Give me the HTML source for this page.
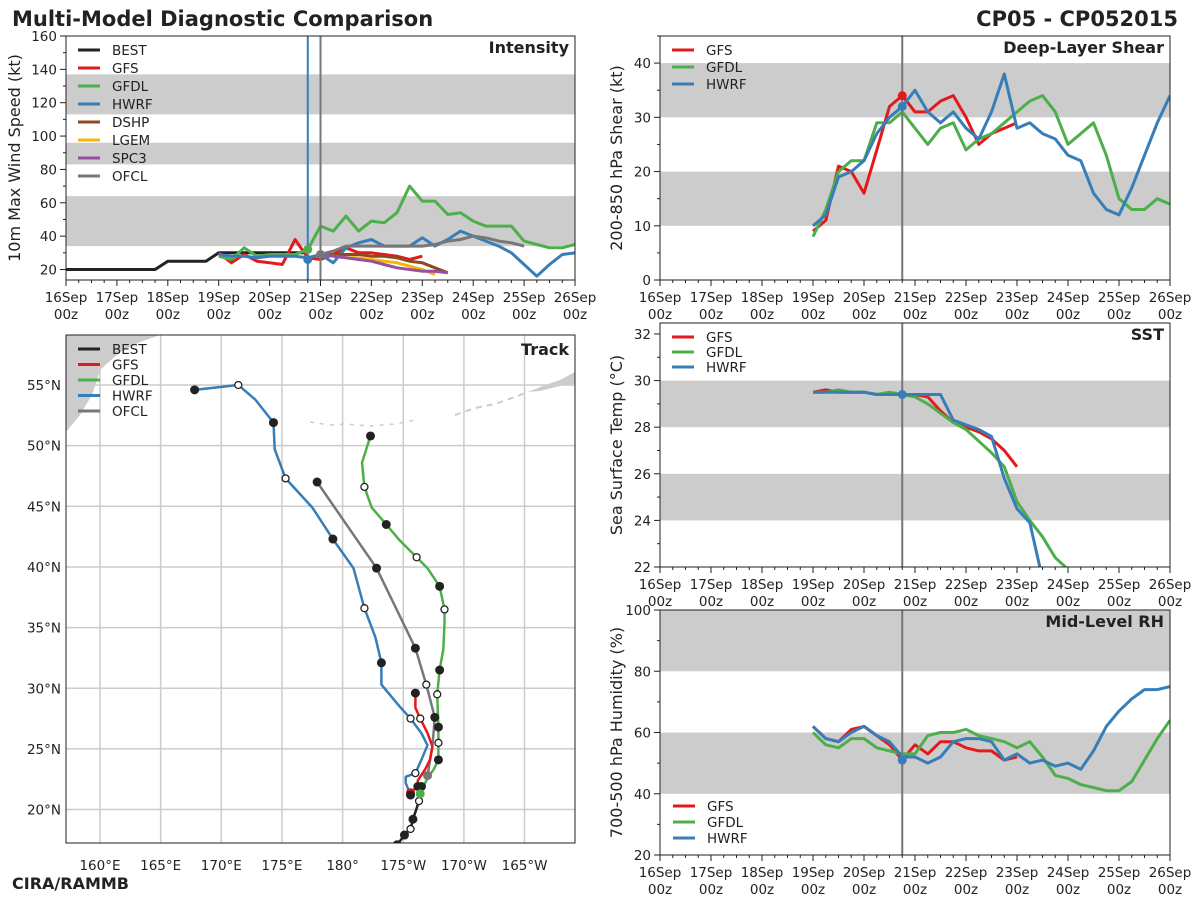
<!DOCTYPE html>
<html><head><meta charset="utf-8"><style>
html,body{margin:0;padding:0;background:#fff;}
svg{display:block;font-family:"DejaVu Sans","Liberation Sans",sans-serif;}
</style></head><body>
<svg id="c" width="1200" height="900" viewBox="0 0 1200 900">
<text x="12" y="26" font-size="21" font-weight="bold" fill="#222">Multi-Model Diagnostic Comparison</text>
<text x="1178" y="26" font-size="21" font-weight="bold" fill="#222" text-anchor="end">CP05 - CP052015</text>
<text x="12" y="889" font-size="16" font-weight="bold" fill="#222">CIRA/RAMMB</text>
</svg>
<script>
// ---------- data ----------
const dayLabels = ["16Sep","17Sep","18Sep","19Sep","20Sep","21Sep","22Sep","23Sep","24Sep","25Sep","26Sep"];
const intBest = [20,20,20,20,20,20,20,20,25,25,25,25,30,30,30,30,30,30,30,30];
const intGFS = [30,24,29,25,24,23,38,27,26,29,33,30,30,29,28,26,28];
const intGFDL = [28,26,33,28,29,29,29,32,46,43,52,43,49,48,54,70,61,61,53,54,49,46,46,46,37,35,33,33,35];
const intHWRF = [29,28,28,27,28,28,28,27,29,24,33,36,38,34,34,34,39,34,38,43,40,37,34,30,23,16,23,29,30];
const intDSHP = [29,29,29,29,28,28,27,25,24,21,18];
const intLGEM = [29,28,27,27,26,25,24,22,20,17];
const intSPC3 = [29,28,27,26,25,23,21,20,19,19,18];
const intOFCL = [29,31,34,34,34,34,34,34,34,35,37,38,40,39,37,36,34];
const shrGFS = [9,11,21,20,16,24,32,34,31,31,33,34,30,25,27,28,29];
const shrGFDL = [8,13,20,22,22,29,29,31,28,25,28,29,24,26,27,29,31,33,34,31,25,27,29,23,15,13,13,15,14];
const shrHWRF = [10,12,19,20,22,27,30,32,35,31,29,31,28,26,31,38,28,29,27,26,23,22,16,13,12,17,23,29,34];
const sstGFS = [29.5,29.6,29.5,29.5,29.5,29.4,29.4,29.4,29.4,29.3,28.7,28.2,28.0,27.8,27.5,27.0,26.3];
const sstGFDL = [29.5,29.5,29.6,29.5,29.5,29.4,29.5,29.4,29.3,29.0,28.6,28.2,27.9,27.4,26.9,26.3,24.8,24.0,23.3,22.4,21.9];
const sstHWRF = [29.5,29.5,29.5,29.5,29.5,29.4,29.4,29.4,29.4,29.4,29.4,28.3,28.1,27.9,27.6,25.8,24.5,23.9,21.5];
const rhGFS = [62,58,57,61,62,59,56,51,56,53,57,57,55,54,54,51,52];
const rhGFDL = [60,56,55,58,58,55,54,53,53,59,60,60,61,59,58,57,55,57,52,46,45,43,42,41,41,44,51,58,64];
const rhHWRF = [62,58,57,60,62,59,57,52,52,50,52,57,58,58,57,51,53,50,51,49,50,48,54,62,67,71,74,74,75];
// track: [lon east, lat]
const trkBEST = [[184.5,17.1],[185.1,17.9],[185.6,18.4],[185.8,19.2],[186.3,20.7],[186.5,21.9]];
const trkGFS = [[185.6,21.4],[186.2,21.9],[186.2,22.4],[186.8,23.3],[187.2,24.1],[187.4,25.2],[187.0,26.3],[186.6,27.1],[186.4,27.5],[186.0,28.4],[186.0,29.6]];
const trkGFDL = [[186.4,21.3],[187.0,22.6],[187.5,23.3],[187.9,24.1],[187.9,25.5],[187.9,26.8],[187.8,29.5],[188.0,31.5],[188.3,33.2],[188.4,35.4],[188.4,36.5],[188.0,38.4],[187.0,39.9],[186.1,40.8],[184.7,42.2],[183.6,43.5],[182.4,44.9],[181.8,46.6],[181.6,48.6],[182.3,50.8]];
const trkHWRF = [[185.6,21.2],[185.2,22.2],[185.2,22.7],[186.0,23.0],[186.5,24.1],[187.0,25.3],[186.5,26.3],[185.6,27.5],[184.7,28.5],[183.2,30.3],[183.2,32.1],[182.7,34.2],[181.8,36.6],[180.9,39.9],[179.2,42.3],[177.5,44.9],[175.3,47.3],[174.4,49.7],[174.3,51.9],[172.8,53.8],[171.4,55.0],[167.8,54.6]];
const trkOFCL = [[187.0,22.8],[187.4,25.2],[187.6,27.6],[186.9,30.3],[186.0,33.3],[182.8,39.9],[177.9,47.0]];
const mkBESTf=[1,3,5], mkBESTo=[2,4];
const mkGFSf=[1,10], mkGFSo=[8];
const mkGFDLf=[3,5,7,11,15,19], mkGFDLo=[4,6,10,13,17];
const mkHWRFf=[0,10,14,18,21], mkHWRFo=[3,7,12,16,20];
const mkOFCLf=[2,4,5,6], mkOFCLo=[3];
const trkLon=[160,165,170,175,180,185,190,195];
const trkLonLbl=["160°E","165°E","170°E","175°E","180°","175°W","170°W","165°W"];
const trkLat=[20,25,30,35,40,45,50,55];

const C={BEST:"#222",GFS:"#e31a1c",GFDL:"#4daf4a",HWRF:"#377eb8",DSHP:"#8c4a1e",LGEM:"#f2b705",SPC3:"#984ea3",OFCL:"#777"};
const svg=document.getElementById('c');
const NS="http://www.w3.org/2000/svg";
function mk(tag,attrs,parent){const e=document.createElementNS(NS,tag);for(const k in attrs)e.setAttribute(k,attrs[k]);(parent||svg).appendChild(e);return e;}
let clipN=0;
function legend(g,x,y,keys,sp){
  const lg=mk('g',{},g);
  
  
  keys.forEach((k,i)=>{
    mk('line',{x1:x,x2:x+22,y1:y+i*sp,y2:y+i*sp,stroke:C[k],"stroke-width":3},lg);
    const t=mk('text',{x:x+34,y:y+i*sp+5,"font-size":13.5,fill:"#222"},lg);t.textContent=k;
    
    
  });
}
function panel(o){
  const g=mk('g',{});
  
  
  const X=d=>o.x0+(d/10)*(o.x1-o.x0);
  const Y=v=>o.y1-(v-o.vmin)/(o.vmax-o.vmin)*(o.y1-o.y0);
  o.bands.forEach(b=>{const r=mk('rect',{x:o.x0,y:Y(b[1]),width:o.x1-o.x0,height:Y(b[0])-Y(b[1]),fill:"#cccccc"},g);
    
    });
  const cid='cl'+(clipN++);
  const cp=mk('clipPath',{id:cid},g);mk('rect',{x:o.x0,y:o.y0,width:o.x1-o.x0,height:o.y1-o.y0},cp);
  for(let d=0;d<=10;d++){
    mk('line',{x1:X(d),x2:X(d),y1:o.y1,y2:o.y1+6,stroke:"#222","stroke-width":1},g);
    if(d<10)for(let q=1;q<4;q++)mk('line',{x1:X(d+q/4),x2:X(d+q/4),y1:o.y1,y2:o.y1+3,stroke:"#222","stroke-width":1},g);
    const t=mk('text',{x:X(d),y:o.y1+22,"font-size":13.5,"text-anchor":"middle",fill:"#222"},g);t.textContent=dayLabels[d];
    
    
    const t2=mk('text',{x:X(d),y:o.y1+39,"font-size":13.5,"text-anchor":"middle",fill:"#222"},g);t2.textContent="00z";
  }
  o.yticks.forEach(v=>{mk('line',{x1:o.x0-6,x2:o.x0,y1:Y(v),y2:Y(v),stroke:"#222"},g);
    const t=mk('text',{x:o.x0-9,y:Y(v)+5,"font-size":13.5,"text-anchor":"end",fill:"#222"},g);t.textContent=v;
    
    });
  (o.yminor||[]).forEach(v=>mk('line',{x1:o.x0-3,x2:o.x0,y1:Y(v),y2:Y(v),stroke:"#222"},g));
  const yt=mk('text',{x:0,y:0,"font-size":16,"text-anchor":"middle",fill:"#222",transform:`translate(${o.ytx},${(o.y0+o.y1)/2}) rotate(-90)`},g);
  yt.textContent=o.ytitle;
  
  
  const gl=mk('g',{"clip-path":`url(#${cid})`},g);
  o.series.forEach(s=>{
    const pts=s.data.map((v,i)=>X(s.start+i*0.25).toFixed(1)+","+Y(v).toFixed(1)).join(" ");
    const p=mk('polyline',{points:pts,fill:"none",stroke:C[s.k],"stroke-width":3,"stroke-linejoin":"round"},gl);
    
    
  });
  (o.vlines||[]).forEach(v=>mk('line',{x1:X(v[0]),x2:X(v[0]),y1:o.y0,y2:o.y1,stroke:v[1],"stroke-width":2},g));
  (o.dots||[]).forEach(d=>mk('circle',{cx:X(d[0]),cy:Y(d[1]),r:4.5,fill:C[d[2]]},g));
  mk('rect',{x:o.x0,y:o.y0,width:o.x1-o.x0,height:o.y1-o.y0,fill:"none",stroke:"#222","stroke-width":1},g);
  const pt=mk('text',{x:o.x1-6,y:o.y0+17,"font-size":16,"font-weight":"bold","text-anchor":"end",fill:"#222"},g);
  pt.textContent=o.title;
  
  
  if(o.legend.length)legend(g,o.x0+12,o.y0+14,o.legend,o.lsp||17.5);
}
const ev=(a,b,s)=>{const r=[];for(let v=a;v<=b+1e-9;v+=s)r.push(+v.toFixed(2));return r;};
panel({name:"intensity-panel",x0:66,x1:575,y0:36,y1:280,vmin:13.7,vmax:160,title:"Intensity",
  ytitle:"10m Max Wind Speed (kt)",ytx:20,yticks:ev(20,160,20),yminor:ev(30,150,20),
  bands:[[34,64],[83,96],[113,137]],
  series:[{k:"BEST",start:0,data:intBest},{k:"GFS",start:3,data:intGFS},{k:"GFDL",start:3,data:intGFDL},{k:"HWRF",start:3,data:intHWRF},
    {k:"DSHP",start:5,data:intDSHP},{k:"LGEM",start:5,data:intLGEM},{k:"SPC3",start:5,data:intSPC3},{k:"OFCL",start:5,data:intOFCL}],
  vlines:[[4.75,"#377eb8"],[5,"#777"]],
  dots:[[4.75,intGFDL[7],"GFDL"],[4.75,intHWRF[7]-1,"HWRF"],[5,intOFCL[0],"OFCL"]],
  legend:["BEST","GFS","GFDL","HWRF","DSHP","LGEM","SPC3","OFCL"],lsp:18});
panel({name:"shear-panel",x0:660,x1:1170,y0:36,y1:280,vmin:0,vmax:45,title:"Deep-Layer Shear",
  ytitle:"200-850 hPa Shear (kt)",ytx:622,yticks:ev(0,40,10),yminor:ev(5,45,10),
  bands:[[10,20],[30,40]],
  series:[{k:"GFS",start:3,data:shrGFS},{k:"GFDL",start:3,data:shrGFDL},{k:"HWRF",start:3,data:shrHWRF}],
  vlines:[[4.75,"#777"]],dots:[[4.75,shrGFS[7],"GFS"],[4.75,shrHWRF[7],"HWRF"]],legend:["GFS","GFDL","HWRF"],lsp:17});
panel({name:"sst-panel",x0:660,x1:1170,y0:323,y1:567,vmin:22,vmax:32.47,title:"SST",
  ytitle:"Sea Surface Temp (°C)",ytx:622,yticks:ev(22,32,2),yminor:ev(23,31,2),
  bands:[[24,26],[28,30]],
  series:[{k:"GFS",start:3,data:sstGFS},{k:"GFDL",start:3,data:sstGFDL},{k:"HWRF",start:3,data:sstHWRF}],
  vlines:[[4.75,"#777"]],dots:[[4.75,sstHWRF[7],"HWRF"]],legend:["GFS","GFDL","HWRF"],lsp:15});
panel({name:"rh-panel",x0:660,x1:1170,y0:610,y1:855,vmin:20,vmax:100,title:"Mid-Level RH",
  ytitle:"700-500 hPa Humidity (%)",ytx:622,yticks:ev(20,100,20),yminor:ev(30,90,20),
  bands:[[40,60],[80,100]],
  series:[{k:"GFS",start:3,data:rhGFS},{k:"GFDL",start:3,data:rhGFDL},{k:"HWRF",start:3,data:rhHWRF}],
  vlines:[[4.75,"#777"]],dots:[[4.75,rhGFS[7],"HWRF"]],legend:[],lsp:15});
(function(){const g=mk('g',{});legend(g,673,806,["GFS","GFDL","HWRF"],16);})();

// ---------- track ----------
(function(){
  const x0=66,x1=575,y0=335,y1=843;
  const LX=lon=>100+(lon-160)*12.13, LY=lat=>385-(lat-55)*12.13;
  const g=mk('g',{});
  
  
  const cp=mk('clipPath',{id:'tc'},g);
  mk('rect',{x:x0,y:y0,width:x1-x0,height:y1-y0},cp);
  const gi=mk('g',{"clip-path":"url(#tc)"},g);
  const l1=mk('polygon',{points:"66,335 160,335 140,342 120,352 100,370 92,395 80,415 66,432",fill:"#cccccc"},gi);
  
  
  const l2=mk('polygon',{points:"528,392 545,385 560,380 575,372 575,384 560,386 540,391",fill:"#cccccc"},gi);
  
  
  mk('polyline',{points:"455,415 475,408 495,404 512,398 528,392",fill:"none",stroke:"#cccccc","stroke-width":2,"stroke-dasharray":"6 5"},gi);
  mk('polyline',{points:"310,422 330,425 345,424 370,426 395,424 415,420",fill:"none",stroke:"#cccccc","stroke-width":1.5,"stroke-dasharray":"4 6"},gi);
  trkLon.forEach((lon,i)=>{mk('line',{x1:LX(lon),x2:LX(lon),y1:y0,y2:y1,stroke:"#cccccc","stroke-width":1.5},gi);
    const t=mk('text',{x:LX(lon),y:y1+27,"font-size":13.5,"text-anchor":"middle",fill:"#222"},g);t.textContent=trkLonLbl[i];
    
    });
  trkLat.forEach(lat=>{mk('line',{x1:x0,x2:x1,y1:LY(lat),y2:LY(lat),stroke:"#cccccc","stroke-width":1.5},gi);
    const t=mk('text',{x:x0-5,y:LY(lat)+5,"font-size":13.5,"text-anchor":"end",fill:"#222"},g);t.textContent=lat+"°N";
    
    });
  const tracks=[["BEST",trkBEST,mkBESTf,mkBESTo],["OFCL",trkOFCL,mkOFCLf,mkOFCLo],["GFS",trkGFS,mkGFSf,mkGFSo],["GFDL",trkGFDL,mkGFDLf,mkGFDLo],["HWRF",trkHWRF,mkHWRFf,mkHWRFo]];
  tracks.forEach(t=>{
    const p=mk('polyline',{points:t[1].map(q=>LX(q[0]).toFixed(1)+","+LY(q[1]).toFixed(1)).join(" "),fill:"none",stroke:C[t[0]],"stroke-width":2.5,"stroke-linejoin":"round"},gi);
    
    
  });
  tracks.forEach(t=>{
    mk('circle',{cx:LX(t[1][0][0]),cy:LY(t[1][0][1]),r:4.5,fill:C[t[0]]},gi);
    t[2].forEach(i=>mk('circle',{cx:LX(t[1][i][0]),cy:LY(t[1][i][1]),r:4.5,fill:"#222"},gi));
    t[3].forEach(i=>mk('circle',{cx:LX(t[1][i][0]),cy:LY(t[1][i][1]),r:3.5,fill:"#fff",stroke:"#222","stroke-width":1.3},gi));
  });
  mk('rect',{x:x0,y:y0,width:x1-x0,height:y1-y0,fill:"none",stroke:"#222","stroke-width":1},g);
  const tt=mk('text',{x:x1-6,y:y0+20,"font-size":16,"font-weight":"bold","text-anchor":"end",fill:"#222"},g);
  tt.textContent="Track";
  
  
  legend(g,78,349,["BEST","GFS","GFDL","HWRF","OFCL"],15.5);
})();
</script>
</body></html>
